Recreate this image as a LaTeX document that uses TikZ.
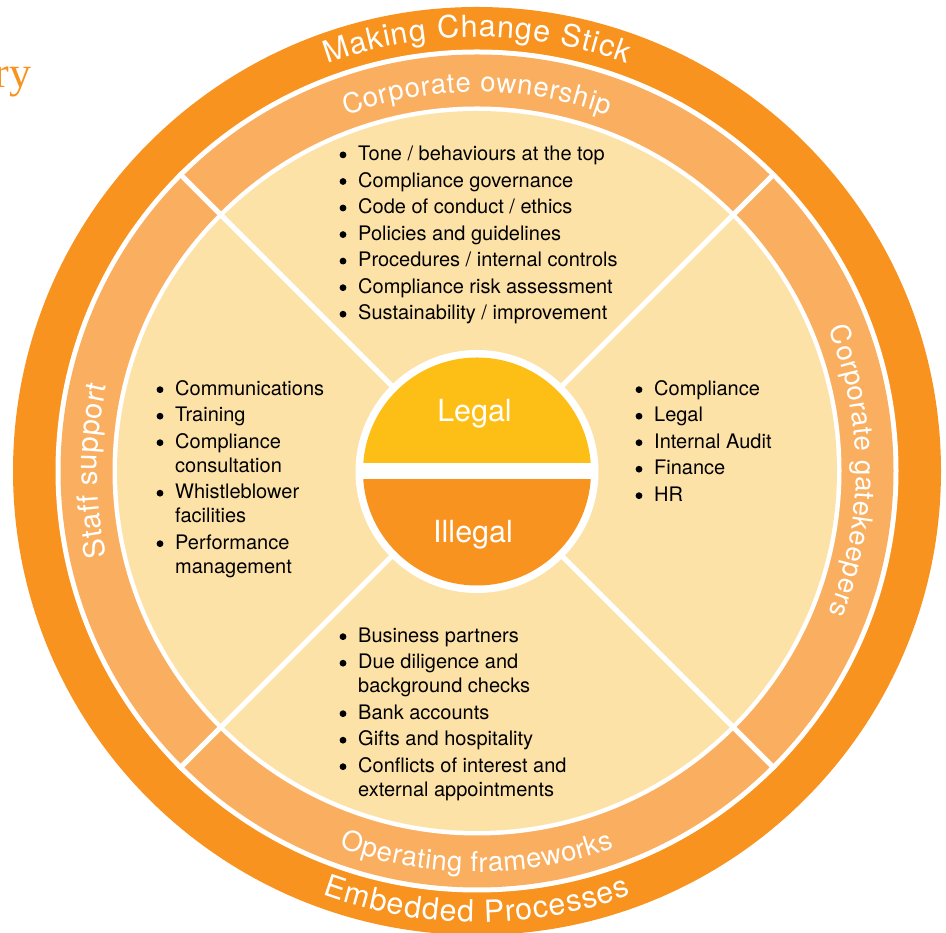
\documentclass[tikz,border=0pt]{standalone}
\usepackage{fontspec}
\setmainfont{TeX Gyre Heros}
\newfontfamily\serifry{Liberation Serif}
\usetikzlibrary{decorations.text}
\definecolor{outerorange}{RGB}{247,147,30}
\definecolor{midorange}{RGB}{249,175,95}
\definecolor{palefill}{RGB}{253,226,168}
\definecolor{legalyellow}{RGB}{253,190,22}
\definecolor{illegalorange}{RGB}{247,147,30}
\begin{document}
\begin{tikzpicture}[x=1pt,y=1pt,
  item/.style={anchor=base west, inner sep=0pt, font=\fontsize{20}{24}\selectfont, text=black},
  centertext/.style={anchor=base, inner sep=0pt, font=\fontsize{30.5}{30.5}\selectfont, text=white},
  ringtext/.style={decorate, decoration={text along path, text align=fit to path, text color=white}},
  divider/.style={draw=white, line width=5pt},
  bulletdot/.style={fill=black},
]
\useasboundingbox (0,0) rectangle (946,933);
\coordinate (c) at (477,462);
\coordinate (cc) at (477,461.5);
% rings
\fill[outerorange] (c) circle[radius=464];
\fill[white] (c) circle[radius=421.5];
\fill[midorange] (c) circle[radius=416.5];
\fill[white] (c) circle[radius=364.5];
\fill[palefill] (c) circle[radius=360];
% dividers
\foreach \a [count=\i] in {45,135,225,315}{
  \path ([shift={(\a:421.5)}]c) coordinate (d\i);
  \draw[divider] (c) -- (d\i);
}
% centre disc
\fill[white] (cc) circle[radius=121.5];
\begin{scope}
  \clip (300,470) rectangle (660,600);
  \fill[legalyellow] (cc) circle[radius=114];
\end{scope}
\begin{scope}
  \clip (300,300) rectangle (660,453);
  \fill[illegalorange] (cc) circle[radius=114];
\end{scope}
\node[centertext] (legal) at (474.5,511) {Legal};
\node[centertext] (illegal) at (473,390) {Illegal};
% ring texts
\path[ringtext, decoration={text={|\fontsize{30.5}{30.5}\selectfont|Making Change Stick}}]
  ([shift={(110.2:434)}]c) arc[start angle=110.2, end angle=69.8, radius=434];
\path[ringtext, decoration={text={|\fontsize{30.5}{30.5}\selectfont|Embedded Processes}}]
  ([shift={(250:451)}]c) arc[start angle=250, end angle=290, radius=451];
\path[ringtext, decoration={text={|\fontsize{27.5}{27.5}\selectfont|Corporate ownership}}]
  ([shift={(110.2:379)}]c) arc[start angle=110.2, end angle=69.8, radius=379];
\path[ringtext, decoration={text={|\fontsize{27.5}{27.5}\selectfont|Operating frameworks}}]
  ([shift={(250:401)}]c) arc[start angle=250, end angle=290, radius=401];
\path[ringtext, decoration={text={|\fontsize{29}{29}\selectfont|Staff support}}]
  ([shift={(193:380)}]c) arc[start angle=193, end angle=167, radius=380];
\path[ringtext, decoration={text={|\fontsize{27.5}{27.5}\selectfont|Corporate gatekeepers}}]
  ([shift={(22:379)}]c) arc[start angle=22, end angle=-22, radius=379];
% top list
\node[item] (t1) at (358,772.3) {Tone / behaviours at the top};
\node[item] (t2) at (358,745.7) {Compliance governance};
\node[item] (t3) at (358,719.2) {Code of conduct / ethics};
\node[item] (t4) at (358,692.6) {Policies and guidelines};
\node[item] (t5) at (358,666.1) {Procedures / internal controls};
\node[item] (t6) at (358,639.5) {Compliance risk assessment};
\node[item] (t7) at (358,613) {Sustainability / improvement};
% left list
\node[item] (l1) at (175,537.5) {Communications};
\node[item] (l2) at (175,511) {Training};
\node[item] (l3) at (175,484.5) {Compliance};
\node[item] (l4) at (175,460.5) {consultation};
\node[item] (l5) at (175,434) {Whistleblower};
\node[item] (l6) at (175,410) {facilities};
\node[item] (l7) at (175,383.5) {Performance};
\node[item] (l8) at (175,359.5) {management};
% right list
\node[item] (r1) at (654,537.5) {Compliance};
\node[item] (r2) at (654,511) {Legal};
\node[item] (r3) at (654,484.5) {Internal Audit};
\node[item] (r4) at (654,458) {Finance};
\node[item] (r5) at (654,431.5) {HR};
% bottom list
\node[item] (b1) at (358,290.5) {Business partners};
\node[item] (b2) at (358,264) {Due diligence and};
\node[item] (b3) at (358,240) {background checks};
\node[item] (b4) at (358,213.5) {Bank accounts};
\node[item] (b5) at (358,187) {Gifts and hospitality};
\node[item] (b6) at (358,160.5) {Conflicts of interest and};
\node[item] (b7) at (358,136.5) {external appointments};
% bullets
\foreach \n in {t1,t2,t3,t4,t5,t6,t7,l1,l2,l3,l5,l7,r1,r2,r3,r4,r5,b1,b2,b4,b5,b6}
  \fill[bulletdot] ([shift={(-15,5.8)}]\n.base west) circle[radius=3.4];
% partial heading
\node[anchor=base east, inner sep=0pt, text=outerorange, font=\serifry\fontsize{44}{44}\selectfont] (ry) at (31.5,845) {ry};
\end{tikzpicture}
\end{document}
